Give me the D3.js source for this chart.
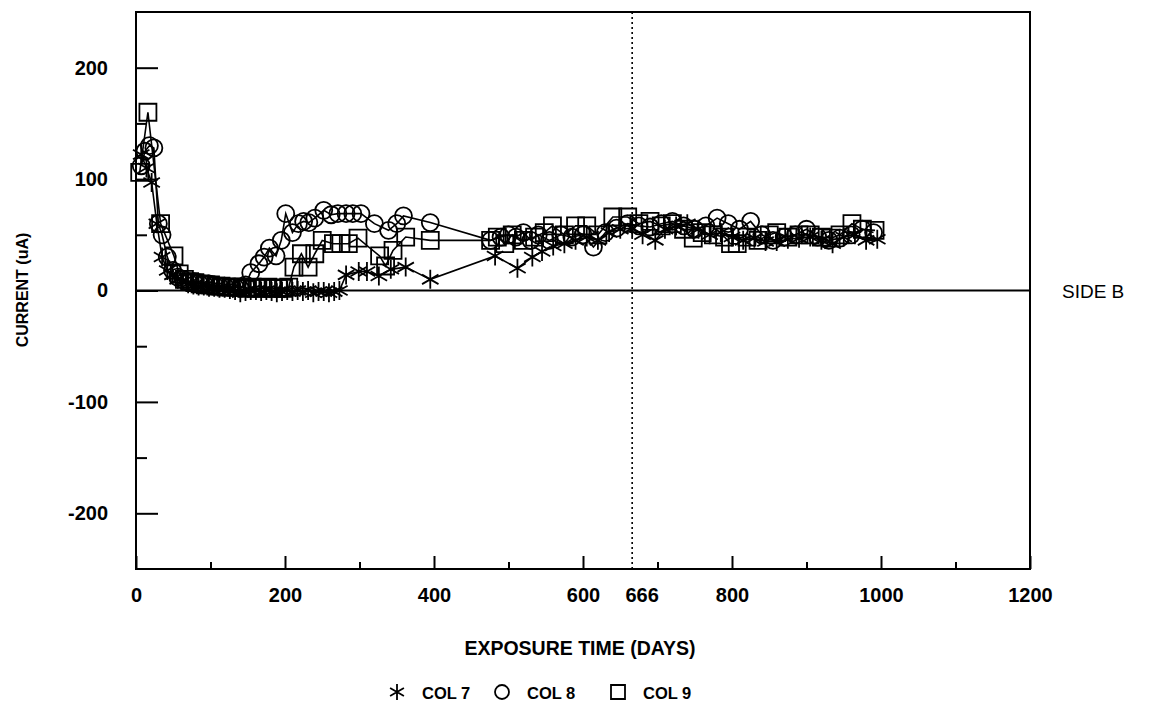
<!DOCTYPE html>
<html>
  <head>
    <title>Current vs exposure time - side B</title>
    <style>
      body {
        margin: 0;
        background: #fff;
      }
      svg {
        background-color: #fff;
        font-family: "Liberation Sans", Arial, sans-serif;
      }
    </style>
  </head>
  <body>
    <svg id="canvas" width="1159" height="710"></svg>
    <script src="https://d3js.org/d3.v7.min.js"></script>
    <script>
      // COL 7 (asterisk)
      const col7Days = [7, 14, 21, 28, 35, 42, 49, 56, 63, 70, 77, 84, 91, 98, 105, 112, 119, 126, 133, 140, 147, 154, 161, 168, 175, 182, 189, 196, 203, 210, 217, 224, 231, 238, 245, 252, 259, 266, 273, 282, 299, 310, 326, 342, 362, 395, 482, 512, 532, 545, 560, 575, 590, 605, 620, 635, 650, 666, 680, 697, 710, 725, 740, 755, 770, 785, 800, 815, 830, 845, 860, 875, 890, 905, 920, 935, 950, 965, 980, 995];
      const col7Values = [122, 110, 97, 60, 30, 18, 14, 10, 8, 6, 5, 4, 4, 3, 3, 2, 2, 1, 0, -2, -1, 0, 0, -1, 0, -1, -2, -1, 0, -1, 0, -1, 0, -2, -1, -1, -2, -1, 0, 14, 17, 17, 13, 19, 21, 10, 31, 20, 30, 35, 40, 42, 45, 48, 45, 52, 55, 56, 50, 45, 55, 58, 60, 55, 50, 52, 48, 45, 47, 44, 44, 46, 47, 48, 45, 42, 48, 50, 45, 46];

      // COL 8 (circle)
      const col8Days = [7, 12, 18, 24, 30, 35, 42, 49, 56, 63, 70, 77, 84, 91, 98, 105, 112, 119, 126, 133, 140, 147, 154, 165, 172, 179, 188, 195, 201, 210, 218, 225, 232, 240, 252, 262, 271, 282, 291, 302, 320, 339, 350, 359, 395, 476, 490, 500, 510, 520, 530, 540, 555, 570, 585, 600, 614, 630, 645, 660, 675, 690, 705, 720, 735, 750, 765, 780, 795, 810, 825, 840, 855, 870, 885, 900, 915, 930, 945, 960, 975, 990];
      const col8Values = [112, 125, 130, 128, 60, 50, 30, 18, 12, 10, 8, 8, 7, 6, 6, 5, 4, 4, 3, 3, 2, 5, 16, 24, 30, 38, 31, 45, 69, 52, 60, 62, 61, 65, 72, 68, 69, 69, 69, 69, 60, 54, 60, 67, 61, 45, 48, 50, 48, 52, 45, 50, 45, 50, 48, 50, 39, 52, 56, 60, 58, 57, 60, 62, 58, 55, 58, 65, 60, 55, 62, 50, 45, 48, 50, 55, 48, 45, 47, 50, 55, 52];

      // COL 9 (square)
      const col9Days = [5, 16, 33, 51, 58, 65, 72, 79, 86, 93, 100, 107, 114, 121, 128, 135, 142, 149, 156, 163, 170, 177, 184, 191, 198, 205, 212, 222, 231, 240, 250, 265, 275, 285, 298, 327, 335, 345, 362, 395, 476, 485, 495, 505, 520, 535, 548, 559, 575, 590, 605, 620, 640, 660, 675, 690, 705, 720, 735, 748, 760, 775, 790, 798, 807, 820, 835, 850, 860, 875, 890, 905, 920, 933, 945, 961, 975, 992];
      const col9Values = [106, 160, 60, 31, 15, 10, 8, 7, 6, 5, 5, 4, 4, 3, 3, 3, 3, 2, 3, 2, 2, 3, 2, 2, 2, 3, 21, 33, 21, 33, 45, 42, 42, 42, 47, 31, 22, 36, 48, 45, 45, 48, 42, 50, 45, 48, 52, 58, 50, 58, 58, 50, 66, 66, 60, 62, 58, 60, 55, 47, 52, 50, 48, 42, 42, 48, 45, 50, 52, 48, 50, 50, 48, 47, 50, 60, 55, 54];

      const seriesNames = ["COL 7", "COL 8", "COL 9"];
      const seriesSymbols = ["asterisk", "circle", "square"];

      const xMajorTicks = [0, 200, 400, 600, 800, 1000, 1200];
      const xMinorTicks = [100, 300, 500, 700, 900, 1100];
      const yMajorTicks = [-200, -100, 0, 100, 200];
      const yMinorTicks = [-150, -50, 50, 150];
      const markerDay = 666;

      const svg = d3.select("#canvas");

      const plotLeft = 136,
        plotRight = 1030,
        plotTop = 12,
        plotBottom = 569;

      const x = d3.scaleLinear().domain([0, 1200]).range([plotLeft, plotRight]);
      const y = d3.scaleLinear().domain([-250, 250]).range([plotBottom, plotTop]);

      const series = seriesNames.map((name, i) => {
        const days = [col7Days, col8Days, col9Days][i];
        const values = [col7Values, col8Values, col9Values][i];
        return {
          name: name,
          symbol: seriesSymbols[i],
          points: days.map((d, j) => ({ day: d, value: values[j] }))
        };
      });

      // Axes (ticks point inward, frame drawn separately)
      function styleAxis(g) {
        g.select(".domain").remove();
        g.selectAll(".tick line").attr("stroke", "#000").attr("stroke-width", 2);
        g.selectAll(".tick text")
          .attr("fill", "#000")
          .attr("font-size", "20px")
          .attr("font-weight", "bold")
          .attr("font-family", "'Liberation Sans', Arial, sans-serif");
      }

      svg.append("g")
        .attr("transform", "translate(0," + plotBottom + ")")
        .call(d3.axisBottom(x).tickValues(xMajorTicks).tickSize(-13).tickPadding(19).tickFormat(d3.format("d")))
        .call(styleAxis);
      svg.append("g")
        .attr("transform", "translate(0," + plotBottom + ")")
        .call(d3.axisBottom(x).tickValues(xMinorTicks).tickSize(-7).tickFormat(""))
        .call(styleAxis);

      // extra 666 label next to the dotted line
      svg.append("text")
        .attr("x", x(markerDay) + 10)
        .attr("y", plotBottom + 33)
        .attr("text-anchor", "middle")
        .attr("font-size", "20px")
        .attr("font-weight", "bold")
        .text(markerDay);

      svg.append("g")
        .attr("transform", "translate(" + plotLeft + ",0)")
        .call(d3.axisLeft(y).tickValues(yMajorTicks).tickSize(-22).tickPadding(28).tickFormat(d => (d < 0 ? "-" + -d : d)))
        .call(styleAxis);
      svg.append("g")
        .attr("transform", "translate(" + plotLeft + ",0)")
        .call(d3.axisLeft(y).tickValues(yMinorTicks).tickSize(-11).tickFormat(""))
        .call(styleAxis);

      // Frame
      svg.append("rect")
        .attr("x", plotLeft)
        .attr("y", plotTop)
        .attr("width", plotRight - plotLeft)
        .attr("height", plotBottom - plotTop)
        .attr("fill", "none")
        .attr("stroke", "#000")
        .attr("stroke-width", 2);

      // Zero line and the day-666 dotted line
      svg.append("line")
        .attr("x1", plotLeft)
        .attr("x2", plotRight)
        .attr("y1", y(0))
        .attr("y2", y(0))
        .attr("stroke", "#000")
        .attr("stroke-width", 2);
      svg.append("line")
        .attr("x1", x(markerDay))
        .attr("x2", x(markerDay))
        .attr("y1", plotTop)
        .attr("y2", plotBottom)
        .attr("stroke", "#000")
        .attr("stroke-width", 1.6)
        .attr("stroke-dasharray", "2,3");

      // Series lines
      const line = d3.line().x(d => x(d.day)).y(d => y(d.value));
      series.forEach(s => {
        svg.append("path")
          .attr("d", line(s.points))
          .attr("fill", "none")
          .attr("stroke", "#000")
          .attr("stroke-width", 1.6);
      });

      /*
       * Marker path for a symbol, centred on 0,0
       */
      function symbolPath(type, r) {
        if (type === "circle") {
          return "M" + -r + ",0A" + r + "," + r + " 0 1,0 " + r + ",0A" + r + "," + r + " 0 1,0 " + -r + ",0Z";
        }
        if (type === "square") {
          return "M" + -r + "," + -r + "H" + r + "V" + r + "H" + -r + "Z";
        }
        const t = r / 2,
          u = t * Math.sqrt(3);
        return "M0," + r + "L0," + -r + "M" + -u + "," + -t + "L" + u + "," + t + "M" + -u + "," + t + "L" + u + "," + -t;
      }

      // Series markers
      series.forEach(s => {
        const size = s.symbol === "asterisk" ? 9.5 : 8.5;
        svg.append("g")
          .selectAll("path")
          .data(s.points)
          .join("path")
          .attr("transform", d => "translate(" + x(d.day) + "," + y(d.value) + ")")
          .attr("d", symbolPath(s.symbol, size))
          .attr("fill", "none")
          .attr("stroke", "#000")
          .attr("stroke-width", 1.8);
      });

      // Axis titles
      svg.append("text")
        .attr("x", (plotLeft + plotRight) / 2 - 3)
        .attr("y", 655)
        .attr("text-anchor", "middle")
        .attr("font-size", "19.5px")
        .attr("font-weight", "bold")
        .text("EXPOSURE TIME (DAYS)");

      svg.append("text")
        .attr("transform", "translate(28,290) rotate(-90)")
        .attr("text-anchor", "middle")
        .attr("font-size", "16px")
        .attr("font-weight", "bold")
        .text("CURRENT (uA)");

      svg.append("text")
        .attr("x", 1062)
        .attr("y", y(0) + 7)
        .attr("font-size", "19px")
        .text("SIDE B");

      // Legend
      const legendX = [397, 502, 618];
      const legend = svg.append("g");
      series.forEach((s, i) => {
        legend.append("path")
          .attr("transform", "translate(" + legendX[i] + ",692)")
          .attr("d", symbolPath(s.symbol, s.symbol === "asterisk" ? 8 : 7))
          .attr("fill", "none")
          .attr("stroke", "#000")
          .attr("stroke-width", 1.8);
        legend.append("text")
          .attr("x", legendX[i] + 25)
          .attr("y", 699)
          .attr("font-size", "16.5px")
          .attr("font-weight", "bold")
          .text(s.name);
      });
    </script>
  </body>
</html>
